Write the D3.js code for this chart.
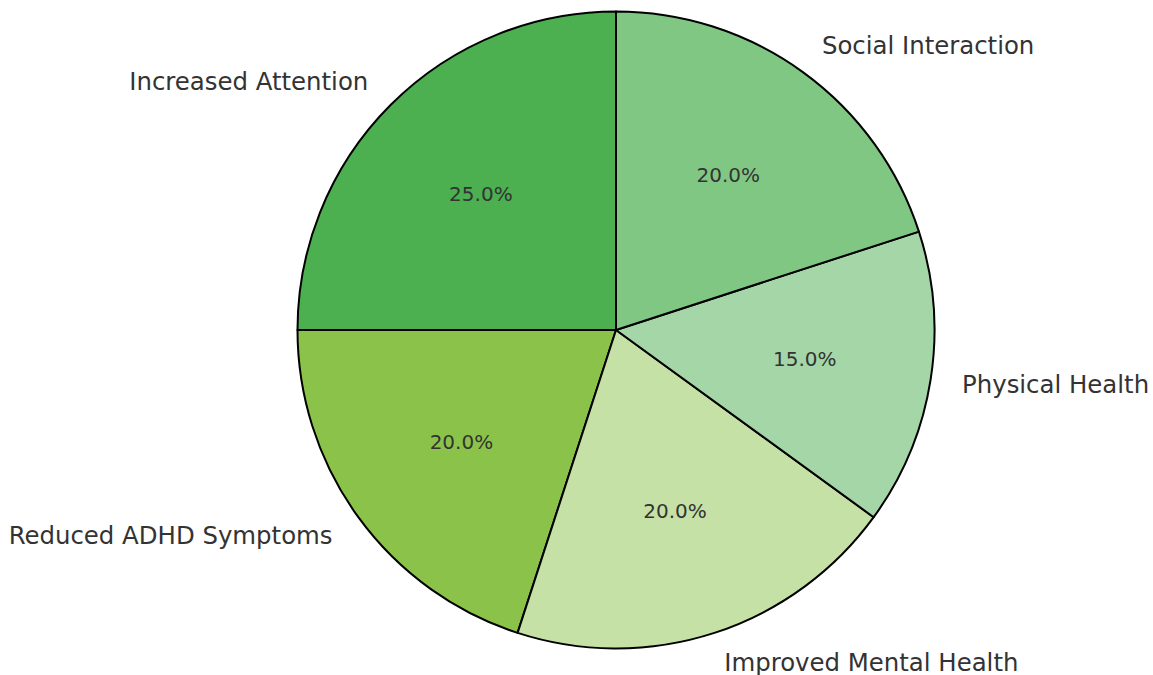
<!DOCTYPE html>
<html>
<head>
<meta charset="utf-8">
<script src="https://cdn.jsdelivr.net/npm/d3@7"></script>
<style>
  body { margin: 0; background: #fff; }
  svg { display: block; }
</style>
</head>
<body>
<svg id="chart" width="1153" height="675"></svg>
<script>
(function () {
	var labels = ['Increased Attention', 'Reduced ADHD Symptoms', 'Improved Mental Health', 'Physical Health', 'Social Interaction'],
		values = [25, 20, 20, 15, 20],
		colors = ['#4caf50', '#8bc34a', '#c5e1a5', '#a5d6a7', '#81c784'],

		cx = 616, cy = 330, R = 318.5,

		svg = d3.select('#chart'),
		g = svg.append('g').attr('transform', 'translate(' + cx + ',' + cy + ')'),

		// matplotlib style: start at 12 o'clock and go counter-clockwise
		pie = d3.pie().sort(null).startAngle(0).endAngle(-2 * Math.PI),
		arcs = pie(values),

		arc = d3.arc().innerRadius(0).outerRadius(R),
		labelArc = d3.arc().innerRadius(R * 1.1).outerRadius(R * 1.1),
		pctArc = d3.arc().innerRadius(R * 0.6).outerRadius(R * 0.6),

		total = d3.sum(values);

	g.selectAll('path.slice')
		.data(arcs)
		.enter().append('path')
		.attr('class', 'slice')
		.attr('d', arc)
		.attr('fill', function (d, i) { return colors[i]; })
		.attr('stroke', '#000')
		.attr('stroke-width', 2)
		.attr('stroke-linejoin', 'round');

	g.selectAll('text.label')
		.data(arcs)
		.enter().append('text')
		.attr('class', 'label')
		.attr('x', function (d) { return labelArc.centroid(d)[0]; })
		.attr('y', function (d) { return labelArc.centroid(d)[1]; })
		.attr('dy', '0.32em')
		.attr('text-anchor', function (d) { return labelArc.centroid(d)[0] > 0 ? 'start' : 'end'; })
		.style('font-family', '"DejaVu Sans", sans-serif')
		.style('font-size', '24.4px')
		.style('fill', '#333333')
		.text(function (d, i) { return labels[i]; });

	g.selectAll('text.pct')
		.data(arcs)
		.enter().append('text')
		.attr('class', 'pct')
		.attr('x', function (d) { return pctArc.centroid(d)[0]; })
		.attr('y', function (d) { return pctArc.centroid(d)[1]; })
		.attr('dy', '0.32em')
		.attr('text-anchor', 'middle')
		.style('font-family', '"DejaVu Sans", sans-serif')
		.style('font-size', '20px')
		.style('fill', '#333333')
		.text(function (d) { return (d.data / total * 100).toFixed(1) + '%'; });
})();
</script>
</body>
</html>
